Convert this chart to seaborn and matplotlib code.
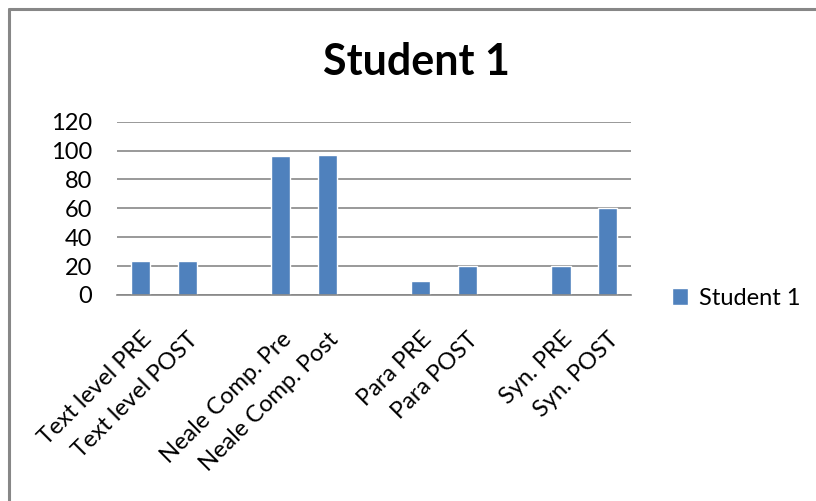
import numpy as np
import pandas as pd
import matplotlib
matplotlib.use('Agg')
import matplotlib.pyplot as plt
from matplotlib.lines import Line2D
from matplotlib.patches import Patch
import seaborn as sns

# Datos (las categorías vacías separan los grupos)
categories = ['Text level PRE', 'Text level POST', ' ',
              'Neale Comp. Pre', 'Neale Comp. Post', '  ',
              'Para PRE', 'Para POST', '   ',
              'Syn. PRE', 'Syn. POST']
values = [23.5, 23.5, np.nan, 96, 97, np.nan, 10, 20, np.nan, 20, 60]
series_name = 'Student 1'
y_ticks = [0, 20, 40, 60, 80, 100, 120]

df = pd.DataFrame({'cat': categories, 'val': values})

sns.set_style('white')
plt.rcParams['font.family'] = ['Lato', 'DejaVu Sans']
plt.rcParams['text.color'] = 'black'
plt.rcParams['xtick.labelcolor'] = 'black'
plt.rcParams['ytick.labelcolor'] = 'black'

grey = '#878787'
bar_color = '#4F81BD'

fig = plt.figure(figsize=(8.16, 5.01), dpi=100)
ax = fig.add_axes([0.1434, 0.4112, 0.630, 0.346])

sns.barplot(data=df, x='cat', y='val', order=categories, color=bar_color,
            width=0.41, saturation=1, errorbar=None, ax=ax)

ax.set_xlim(-0.5, len(categories) - 0.5)
ax.set_ylim(0, 120)
ax.set_yticks(y_ticks)
ax.set_yticklabels([str(v) for v in y_ticks], fontsize=17)
ax.set_xlabel('')
ax.set_ylabel('')

# Etiquetas del eje x rotadas
ax.set_xticks(range(len(categories)))
ax.set_xticklabels(categories, rotation=45, ha='right', va='top',
                   rotation_mode='anchor', fontsize=17)
ax.tick_params(axis='x', which='major', length=0, pad=24, labelcolor='black')
ax.set_xticks(np.arange(-0.5, len(categories)), minor=True)
ax.tick_params(axis='x', which='minor', length=6, width=1.2, color=grey,
               direction='out')
ax.tick_params(axis='y', length=7, width=1.2, color=grey, direction='out',
               pad=11, labelcolor='black')

ax.yaxis.grid(True, color=grey, linewidth=1.2)
ax.set_axisbelow(True)
for s in ['top', 'right', 'left']:
    ax.spines[s].set_visible(False)
ax.spines['bottom'].set_color(grey)
ax.spines['bottom'].set_linewidth(1.2)

# Título centrado en la figura
fig.text(0.51, 0.85, 'Student 1', fontsize=31, fontweight='bold',
         ha='center', va='baseline', color='black')

fig.legend(handles=[Patch(facecolor=bar_color, label=series_name)],
           loc='center left', bbox_to_anchor=(0.797, 0.405), frameon=False,
           fontsize=17, handlelength=0.7, handleheight=0.7, handletextpad=0.45,
           labelcolor='black')

# Marco exterior (solo arriba e izquierda visibles)
fig.add_artist(Line2D([0.011, 1.0], [0.982, 0.982], transform=fig.transFigure,
                      color=grey, linewidth=2.2))
fig.add_artist(Line2D([0.011, 0.011], [0.0, 0.982], transform=fig.transFigure,
                      color=grey, linewidth=2.2))

fig.savefig('out.png', dpi=100)
